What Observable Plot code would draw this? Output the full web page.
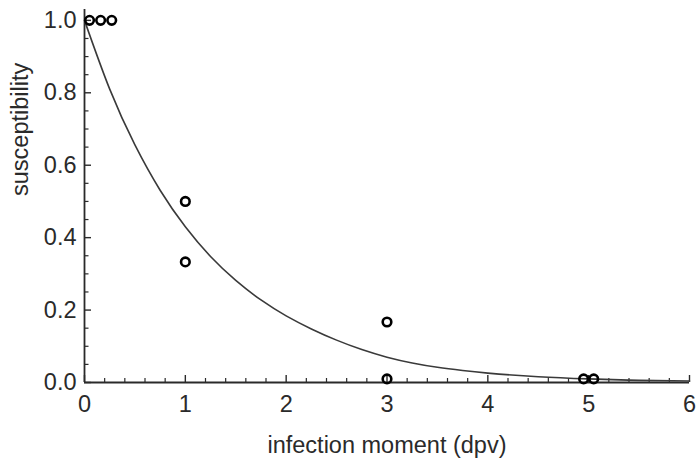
<!DOCTYPE html>
<html>
<head>
<meta charset="utf-8">
<script src="https://cdn.jsdelivr.net/npm/d3@7"></script>
<script src="https://cdn.jsdelivr.net/npm/@observablehq/plot@0.6"></script>
<style>
  html, body { margin: 0; padding: 0; background: #fff; }
</style>
</head>
<body>
<div id="chart"></div>
<script>
// Observed data points
const pointX = [0.05, 0.16, 0.27, 1, 1, 3, 3, 4.95, 5.05];
const pointY = [1.0, 1.0, 1.0, 0.5, 0.333, 0.167, 0.01, 0.01, 0.01];

// Fitted curve
const curveX = [0, 0.25, 0.5, 0.75, 1, 1.25, 1.5, 1.75, 2, 2.25, 2.5, 2.75, 3, 3.25, 3.5, 3.75, 4, 4.5, 5, 5.5, 6];
const curveY = [1.0, 0.81, 0.656, 0.531, 0.43, 0.348, 0.282, 0.228, 0.184, 0.148, 0.117, 0.091, 0.070, 0.054, 0.042, 0.033, 0.026, 0.016, 0.010, 0.006, 0.004];

// Tick labels
const xTicks = [0, 1, 2, 3, 4, 5, 6];
const yTicks = [0, 0.2, 0.4, 0.6, 0.8, 1.0];
const xMinor = d3.range(0, 30).map(i => i * 0.2).filter(v => Math.abs(v - Math.round(v)) > 1e-6);
const yMinor = d3.range(0, 21).map(i => i * 0.05).filter(v => Math.abs(v * 5 - Math.round(v * 5)) > 1e-6);

const xTitle = "infection moment (dpv)";
const yTitle = "susceptibility";

const points = pointX.map((x, i) => ({x, y: pointY[i]}));
const curve = curveX.map((x, i) => ({x, y: curveY[i]}));

const W = 696, H = 459;
const mL = 84, mR = 7, mT = 9, mB = 77;
const frameW = W - mL - mR, frameH = H - mT - mB;
const axisColor = "#2a2a2a";
const textColor = "#2a2a2a";

const chart = Plot.plot({
  width: W,
  height: H,
  marginLeft: mL,
  marginRight: mR,
  marginTop: mT,
  marginBottom: mB,
  style: {fontFamily: "'Liberation Sans', Arial, sans-serif", fontSize: "23.5px", color: textColor, background: "#fff"},
  x: {domain: [0, 6], axis: null},
  y: {domain: [0, 1.03], axis: null},
  marks: [
    // axis lines
    Plot.ruleY([0], {stroke: axisColor, strokeWidth: 1.8}),
    Plot.ruleX([0], {stroke: axisColor, strokeWidth: 1.8}),
    // major / minor ticks (inward)
    Plot.ruleX(xTicks, {x: d => d, stroke: axisColor, strokeWidth: 1.4, insetTop: frameH - 7}),
    Plot.ruleX(xMinor, {x: d => d, stroke: axisColor, strokeWidth: 1.2, insetTop: frameH - 4}),
    Plot.ruleY(yTicks, {y: d => d, stroke: axisColor, strokeWidth: 1.4, insetRight: frameW - 7}),
    Plot.ruleY(yMinor, {y: d => d, stroke: axisColor, strokeWidth: 1.2, insetRight: frameW - 4.5}),
    // tick labels
    Plot.axisX({ticks: xTicks, tickSize: 0, tickPadding: 13, tickFormat: d3.format("d"), label: null, fill: textColor}),
    Plot.axisY({ticks: yTicks, tickSize: 0, tickPadding: 8, tickFormat: d3.format(".1f"), label: null, fill: textColor}),
    // axis titles
    Plot.text([xTitle], {text: d => d, frameAnchor: "bottom", lineAnchor: "bottom", dy: 70, fill: textColor}),
    Plot.text([yTitle], {text: d => d, frameAnchor: "left", lineAnchor: "bottom", rotate: -90, dx: -57, fill: textColor}),
    // fitted curve
    Plot.line(curve, {x: "x", y: "y", curve: "natural", stroke: "#3a3a3a", strokeWidth: 1.6}),
    // data points
    Plot.dot(points, {x: "x", y: "y", r: 4.3, stroke: "#000", strokeWidth: 2.6, fill: "none"})
  ]
});

document.getElementById("chart").appendChild(chart);
</script>
</body>
</html>
